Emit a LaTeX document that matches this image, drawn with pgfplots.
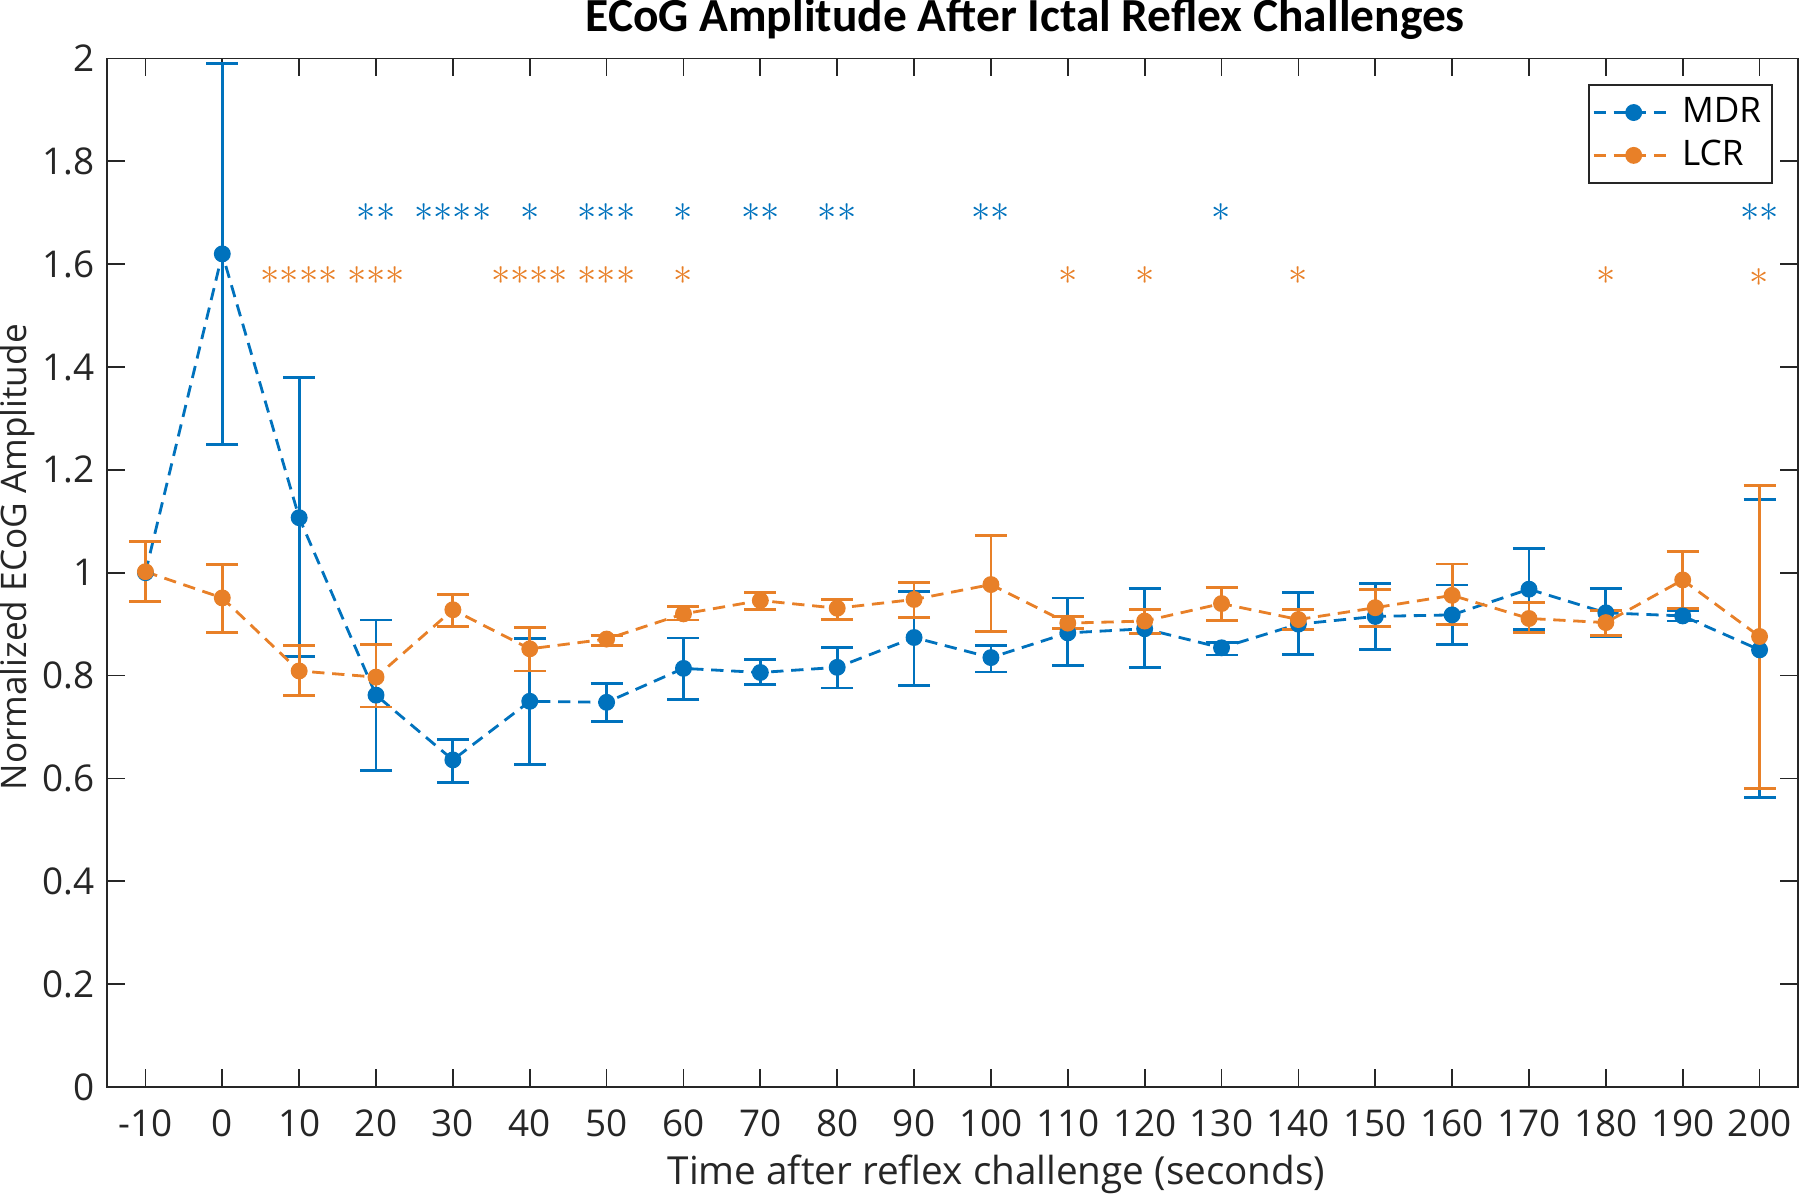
\documentclass[border=0pt]{standalone}
\usepackage{pgfplots}
\pgfplotsset{compat=1.18}
\usepackage{pgfplotstable}
\usepackage{fontspec}
\setmainfont{Open Sans}
\newfontfamily\titlefont{Carlito}
\definecolor{mdr}{RGB}{0,114,189}
\definecolor{lcr}{RGB}{232,128,40}
\definecolor{axgray}{RGB}{38,38,38}

\pgfplotstableread{
x y ep em
-10 1.000 0 0
0 1.620 0.370 0.370
10 1.107 0.273 0.270
20 0.762 0.146 0.147
30 0.636 0.040 0.044
40 0.750 0.122 0.123
50 0.748 0.036 0.038
60 0.814 0.059 0.060
70 0.806 0.026 0.023
80 0.816 0.038 0.040
90 0.874 0.090 0.093
100 0.835 0.023 0.028
110 0.883 0.068 0.064
120 0.891 0.079 0.075
130 0.854 0.011 0.014
140 0.900 0.061 0.059
150 0.915 0.064 0.064
160 0.918 0.058 0.057
170 0.968 0.079 0.078
180 0.922 0.047 0.046
190 0.916 0.010 0.010
200 0.850 0.292 0.287
}\mdrtab

\pgfplotstableread{
x y ep em
0 1.620 0.370 0.370
10 1.107 0.273 0.270
20 0.762 0.146 0.147
30 0.636 0.040 0.044
40 0.750 0.122 0.123
50 0.748 0.036 0.038
60 0.814 0.059 0.060
70 0.806 0.026 0.023
80 0.816 0.038 0.040
90 0.874 0.090 0.093
100 0.835 0.023 0.028
110 0.883 0.068 0.064
120 0.891 0.079 0.075
130 0.854 0.011 0.014
140 0.900 0.061 0.059
150 0.915 0.064 0.064
160 0.918 0.058 0.057
170 0.968 0.079 0.078
180 0.922 0.047 0.046
190 0.916 0.010 0.010
200 0.850 0.292 0.287
}\mdrerr

\pgfplotstableread{
x y ep em
-10 1.002 0.058 0.058
0 0.951 0.065 0.068
10 0.809 0.049 0.047
20 0.797 0.063 0.058
30 0.928 0.029 0.032
40 0.852 0.042 0.043
50 0.871 0.007 0.013
60 0.920 0.015 0.012
70 0.946 0.016 0.017
80 0.931 0.017 0.022
90 0.948 0.033 0.035
100 0.977 0.095 0.092
110 0.902 0.013 0.011
120 0.906 0.023 0.024
130 0.940 0.032 0.033
140 0.909 0.020 0.019
150 0.932 0.036 0.036
160 0.956 0.061 0.056
170 0.911 0.031 0.028
180 0.903 0.024 0.025
190 0.986 0.056 0.056
200 0.876 0.294 0.296
}\lcrtab

\begin{document}
\begin{tikzpicture}
\useasboundingbox (0,0) rectangle (18cm,11.96cm);
\begin{axis}[
  at={(1.07cm,1.09cm)}, anchor=south west,
  scale only axis, width=16.91cm, height=10.285cm,
  xmin=-15, xmax=205, ymin=0, ymax=2,
  xtick={-10,0,10,20,30,40,50,60,70,80,90,100,110,120,130,140,150,160,170,180,190,200},
  ytick={0,0.2,0.4,0.6,0.8,1,1.2,1.4,1.6,1.8,2},
  tick align=inside, major tick length=0.18cm,
  axis line style={draw=axgray, line width=0.5pt},
  tick style={draw=axgray, line width=0.5pt},
  /pgf/number format/assume math mode=true,
  ticklabel style={font=\fontsize{10.5}{12}\selectfont, text=axgray},
  xticklabel style={yshift=-0.1cm},
  xlabel={Time after reflex challenge (seconds)},
  xlabel style={at={(axis description cs:0.526,-0.0846)}, anchor=center, font=\fontsize{11}{13}\selectfont, text=axgray},
  ylabel={Normalized ECoG Amplitude},
  ylabel style={at={(axis description cs:-0.053,0.515)}, anchor=center, font=\fontsize{10}{12}\selectfont, text=axgray},
  legend style={at={(rel axis cs:0.985,0.975)}, anchor=north east, draw=axgray, line width=0.5pt,
    font=\fontsize{10}{12}\selectfont, inner xsep=1pt, inner ysep=1.5pt, row sep=-0.5pt, cells={anchor=west}},
  legend image code/.code={
    \draw[mark repeat=2, mark phase=2, #1] plot coordinates {(0cm,0cm) (0.4cm,0cm) (0.8cm,0cm)};
  },
]
% MDR error bars
\addplot[only marks, mark=none, forget plot,
  error bars/.cd, y dir=both, y explicit,
  error bar style={solid, draw=mdr, line width=0.8pt},
  error mark options={rotate=90, draw=mdr, mark size=0.16cm, line width=0.8pt, solid}]
  table[x=x, y=y, y error plus=ep, y error minus=em] {\mdrerr};
\addplot[mdr, line width=0.8pt, dash pattern=on 3.5pt off 2.2pt, mark=*, mark size=2pt, mark options={solid, fill=mdr}]
  table[x=x, y=y] {\mdrtab};
\addlegendentry{MDR}
% LCR
\addplot[only marks, mark=none, forget plot,
  error bars/.cd, y dir=both, y explicit,
  error bar style={solid, draw=lcr, line width=0.8pt},
  error mark options={rotate=90, draw=lcr, mark size=0.16cm, line width=0.8pt, solid}]
  table[x=x, y=y, y error plus=ep, y error minus=em] {\lcrtab};
\addplot[lcr, line width=0.8pt, dash pattern=on 3.5pt off 2.2pt, mark=*, mark size=2pt, mark options={solid, fill=lcr}]
  table[x=x, y=y] {\lcrtab};
\addlegendentry{LCR}

% significance stars
\begin{scope}[every node/.style={font=\fontsize{10.5}{12}\selectfont, anchor=center, inner sep=0pt}]
\node[text=mdr] at (axis cs:20,1.70) {${\ast}{\ast}$};
\node[text=mdr] at (axis cs:30,1.70) {${\ast}{\ast}{\ast}{\ast}$};
\node[text=mdr] at (axis cs:40,1.70) {${\ast}$};
\node[text=mdr] at (axis cs:50,1.70) {${\ast}{\ast}{\ast}$};
\node[text=mdr] at (axis cs:60,1.70) {${\ast}$};
\node[text=mdr] at (axis cs:70,1.70) {${\ast}{\ast}$};
\node[text=mdr] at (axis cs:80,1.70) {${\ast}{\ast}$};
\node[text=mdr] at (axis cs:100,1.70) {${\ast}{\ast}$};
\node[text=mdr] at (axis cs:130,1.70) {${\ast}$};
\node[text=mdr] at (axis cs:200,1.70) {${\ast}{\ast}$};
\node[text=lcr] at (axis cs:10,1.578) {${\ast}{\ast}{\ast}{\ast}$};
\node[text=lcr] at (axis cs:20,1.578) {${\ast}{\ast}{\ast}$};
\node[text=lcr] at (axis cs:40,1.578) {${\ast}{\ast}{\ast}{\ast}$};
\node[text=lcr] at (axis cs:50,1.578) {${\ast}{\ast}{\ast}$};
\node[text=lcr] at (axis cs:60,1.578) {${\ast}$};
\node[text=lcr] at (axis cs:110,1.578) {${\ast}$};
\node[text=lcr] at (axis cs:120,1.578) {${\ast}$};
\node[text=lcr] at (axis cs:140,1.578) {${\ast}$};
\node[text=lcr] at (axis cs:180,1.578) {${\ast}$};
\node[text=lcr] at (axis cs:200,1.574) {${\ast}$};
\end{scope}
\end{axis}
\node[font=\titlefont\bfseries\fontsize{13.5}{15}\selectfont, anchor=center, inner sep=0pt] at (10.252cm,11.766cm) {ECoG Amplitude After Ictal Reflex Challenges};
\end{tikzpicture}
\end{document}
